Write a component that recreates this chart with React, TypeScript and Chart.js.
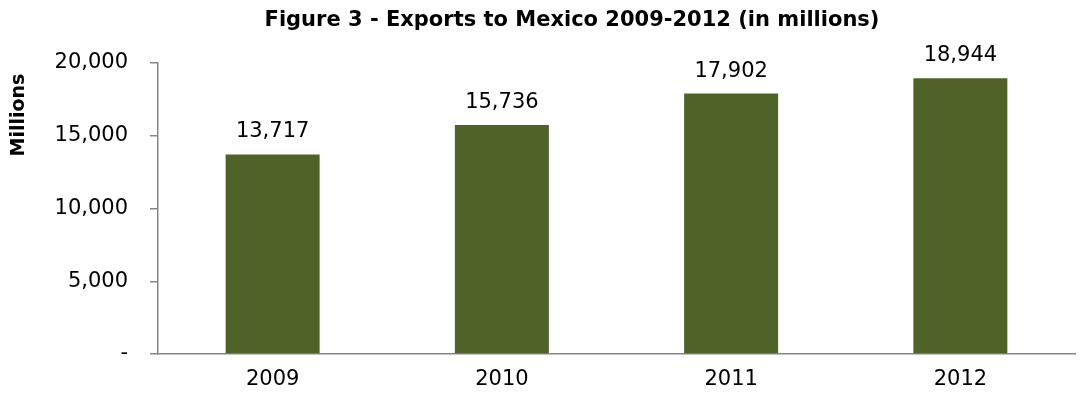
import React, { useEffect, useRef } from "react";
import { Chart, registerables } from "chart.js";

Chart.register(...registerables);

const categories = ["2009", "2010", "2011", "2012"];
const exportValues = [13717, 15736, 17902, 18944];
const yTickValues = [0, 5000, 10000, 15000, 20000];
const titleText = "Figure 3 - Exports to Mexico 2009-2012 (in millions)";
const yAxisTitle = "Millions";

const FONT = "'DejaVu Sans', sans-serif";

const fmt = (v: number) => (v === 0 ? "-" : v.toLocaleString("en-US"));

const labelsPlugin = {
  id: "barLabels",
  afterDatasetsDraw(chart: any) {
    const ctx = chart.ctx;
    const meta = chart.getDatasetMeta(0);
    ctx.save();
    ctx.fillStyle = "#000";
    ctx.font = `21px ${FONT}`;
    ctx.textAlign = "center";
    ctx.textBaseline = "alphabetic";
    meta.data.forEach((bar: any, i: number) => {
      ctx.fillText(fmt(exportValues[i]), bar.x, bar.y - 17);
    });
    ctx.restore();
  },
};

const textPlugin = {
  id: "extraText",
  afterDraw(chart: any) {
    const ctx = chart.ctx;
    ctx.save();
    ctx.fillStyle = "#000";
    // chart title
    ctx.font = `bold 21px ${FONT}`;
    ctx.textAlign = "center";
    ctx.textBaseline = "middle";
    ctx.fillText(titleText, 572, 21);
    // y axis title
    ctx.font = `bold 19px ${FONT}`;
    ctx.translate(19, chart.chartArea.top + 52);
    ctx.rotate(-Math.PI / 2);
    ctx.fillText(yAxisTitle, 0, 0);
    ctx.restore();
  },
};

export default function App() {
  const ref = useRef<HTMLCanvasElement>(null);
  useEffect(() => {
    document.body.style.margin = "0";
    const chart = new Chart(ref.current!, {
      type: "bar",
      data: {
        labels: categories,
        datasets: [
          {
            data: exportValues,
            backgroundColor: "#4F6228",
            borderWidth: 0,
            barPercentage: 0.41,
            categoryPercentage: 1,
          },
        ],
      },
      plugins: [labelsPlugin, textPlugin],
      options: {
        animation: false,
        responsive: false,
        layout: { padding: { left: 0, right: 11, top: 63, bottom: 0 } },
        plugins: {
          legend: { display: false },
          tooltip: { enabled: false },
          title: { display: false },
        },
        scales: {
          x: {
            afterFit: (scale: any) => {
              scale.height = 46;
            },
            grid: { display: false, drawTicks: false },
            border: { display: true, color: "#868686", width: 1.5 },
            ticks: {
              color: "#000",
              font: { family: FONT, size: 21 },
              padding: 13,
            },
          },
          y: {
            min: 0,
            max: 20000,
            afterBuildTicks: (scale: any) => {
              scale.ticks = yTickValues.map((v) => ({ value: v }));
            },
            afterFit: (scale: any) => {
              scale.width = 158;
            },
            grid: {
              display: true,
              drawOnChartArea: false,
              drawTicks: true,
              tickLength: 8,
              color: "#868686",
              lineWidth: 1.5,
            },
            border: { display: true, color: "#868686", width: 1.5 },
            ticks: {
              color: "#000",
              font: { family: FONT, size: 21 },
              padding: 22,
              callback: (v: any) => fmt(Number(v)),
            },
          },
        },
      },
    } as any);
    return () => chart.destroy();
  }, []);
  return (
    <div style={{ width: 1086, height: 400 }}>
      <canvas ref={ref} width={1086} height={400} />
    </div>
  );
}
